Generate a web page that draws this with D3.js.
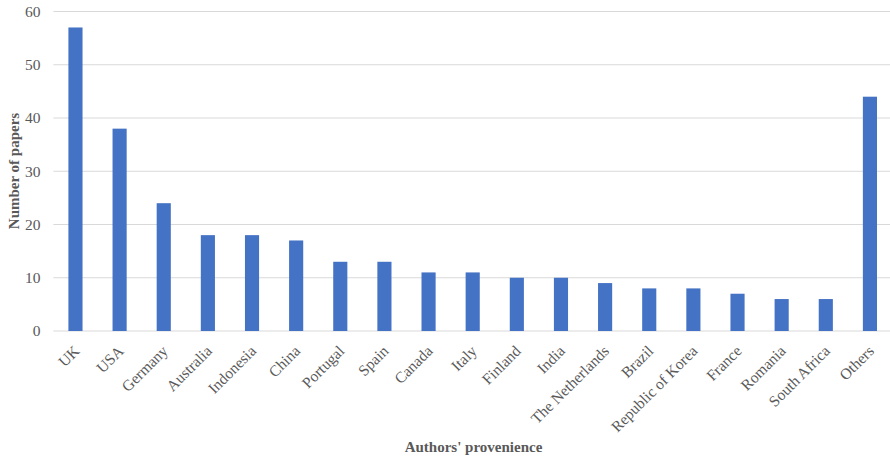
<!DOCTYPE html>
<html><head><meta charset="utf-8">
<script src="https://cdn.jsdelivr.net/npm/d3@7"></script>
<style>body{margin:0;background:#fff}</style>
</head><body>
<svg id="c" width="890" height="461"></svg>
<script>
const categories = ["UK","USA","Germany","Australia","Indonesia","China","Portugal","Spain","Canada","Italy","Finland","India","The Netherlands","Brazil","Republic of Korea","France","Romania","South Africa","Others"];
const values = [57,38,24,18,18,17,13,13,11,11,10,10,9,8,8,7,6,6,44];
const yTicks = [0,10,20,30,40,50,60];

(function(){
const svg = d3.select("#c");
const mLeft = 53.4, mRight = 892, mTop = 11.5, mBottom = 331;
const font = "'Liberation Serif','Times New Roman',serif";
const x = d3.scaleBand().domain(categories).range([mLeft, mRight]).paddingInner(0.68).paddingOuter(0.34);
const y = d3.scaleLinear().domain([0,60]).range([mBottom, mTop]);

const grid = svg.append("g");
grid.selectAll("line").data(yTicks).join("line")
  .attr("x1", mLeft).attr("x2", mRight)
  .attr("y1", d => y(d)).attr("y2", d => y(d))
  .attr("stroke", "#d9d9d9").attr("stroke-width", 1);

svg.append("g").selectAll("rect").data(categories).join("rect")
  .attr("x", d => x(d)).attr("width", x.bandwidth())
  .attr("y", (d,i) => y(values[i])).attr("height", (d,i) => y(0) - y(values[i]))
  .attr("fill", "#4472c4");

const yAxis = d3.axisLeft(y).tickValues(yTicks).tickSize(0).tickPadding(13);
const ya = svg.append("g").attr("transform", `translate(${mLeft},0)`).call(yAxis);
ya.select(".domain").remove();
ya.selectAll("text").attr("font-family", font).attr("font-size", 15.5).attr("fill", "#595959");

const xAxis = d3.axisBottom(x).tickSize(0).tickPadding(0);
const xa = svg.append("g").attr("transform", `translate(0,${mBottom})`).call(xAxis);
xa.select(".domain").remove();
xa.selectAll("text")
  .attr("font-family", font).attr("font-size", 15.5).attr("fill", "#595959")
  .attr("text-anchor", "end").attr("dy", null).attr("y", 0)
  .attr("transform", "translate(5,21) rotate(-45)");

svg.append("text").attr("x", 473.5).attr("y", 452).attr("text-anchor", "middle")
  .attr("font-family", font).attr("font-size", 15).attr("font-weight", "bold").attr("fill", "#595959")
  .text("Authors' provenience");
svg.append("text").attr("transform", `translate(19,171) rotate(-90)`).attr("text-anchor", "middle")
  .attr("font-family", font).attr("font-size", 15).attr("font-weight", "bold").attr("fill", "#595959")
  .text("Number of papers");
})();
</script>
</body></html>
